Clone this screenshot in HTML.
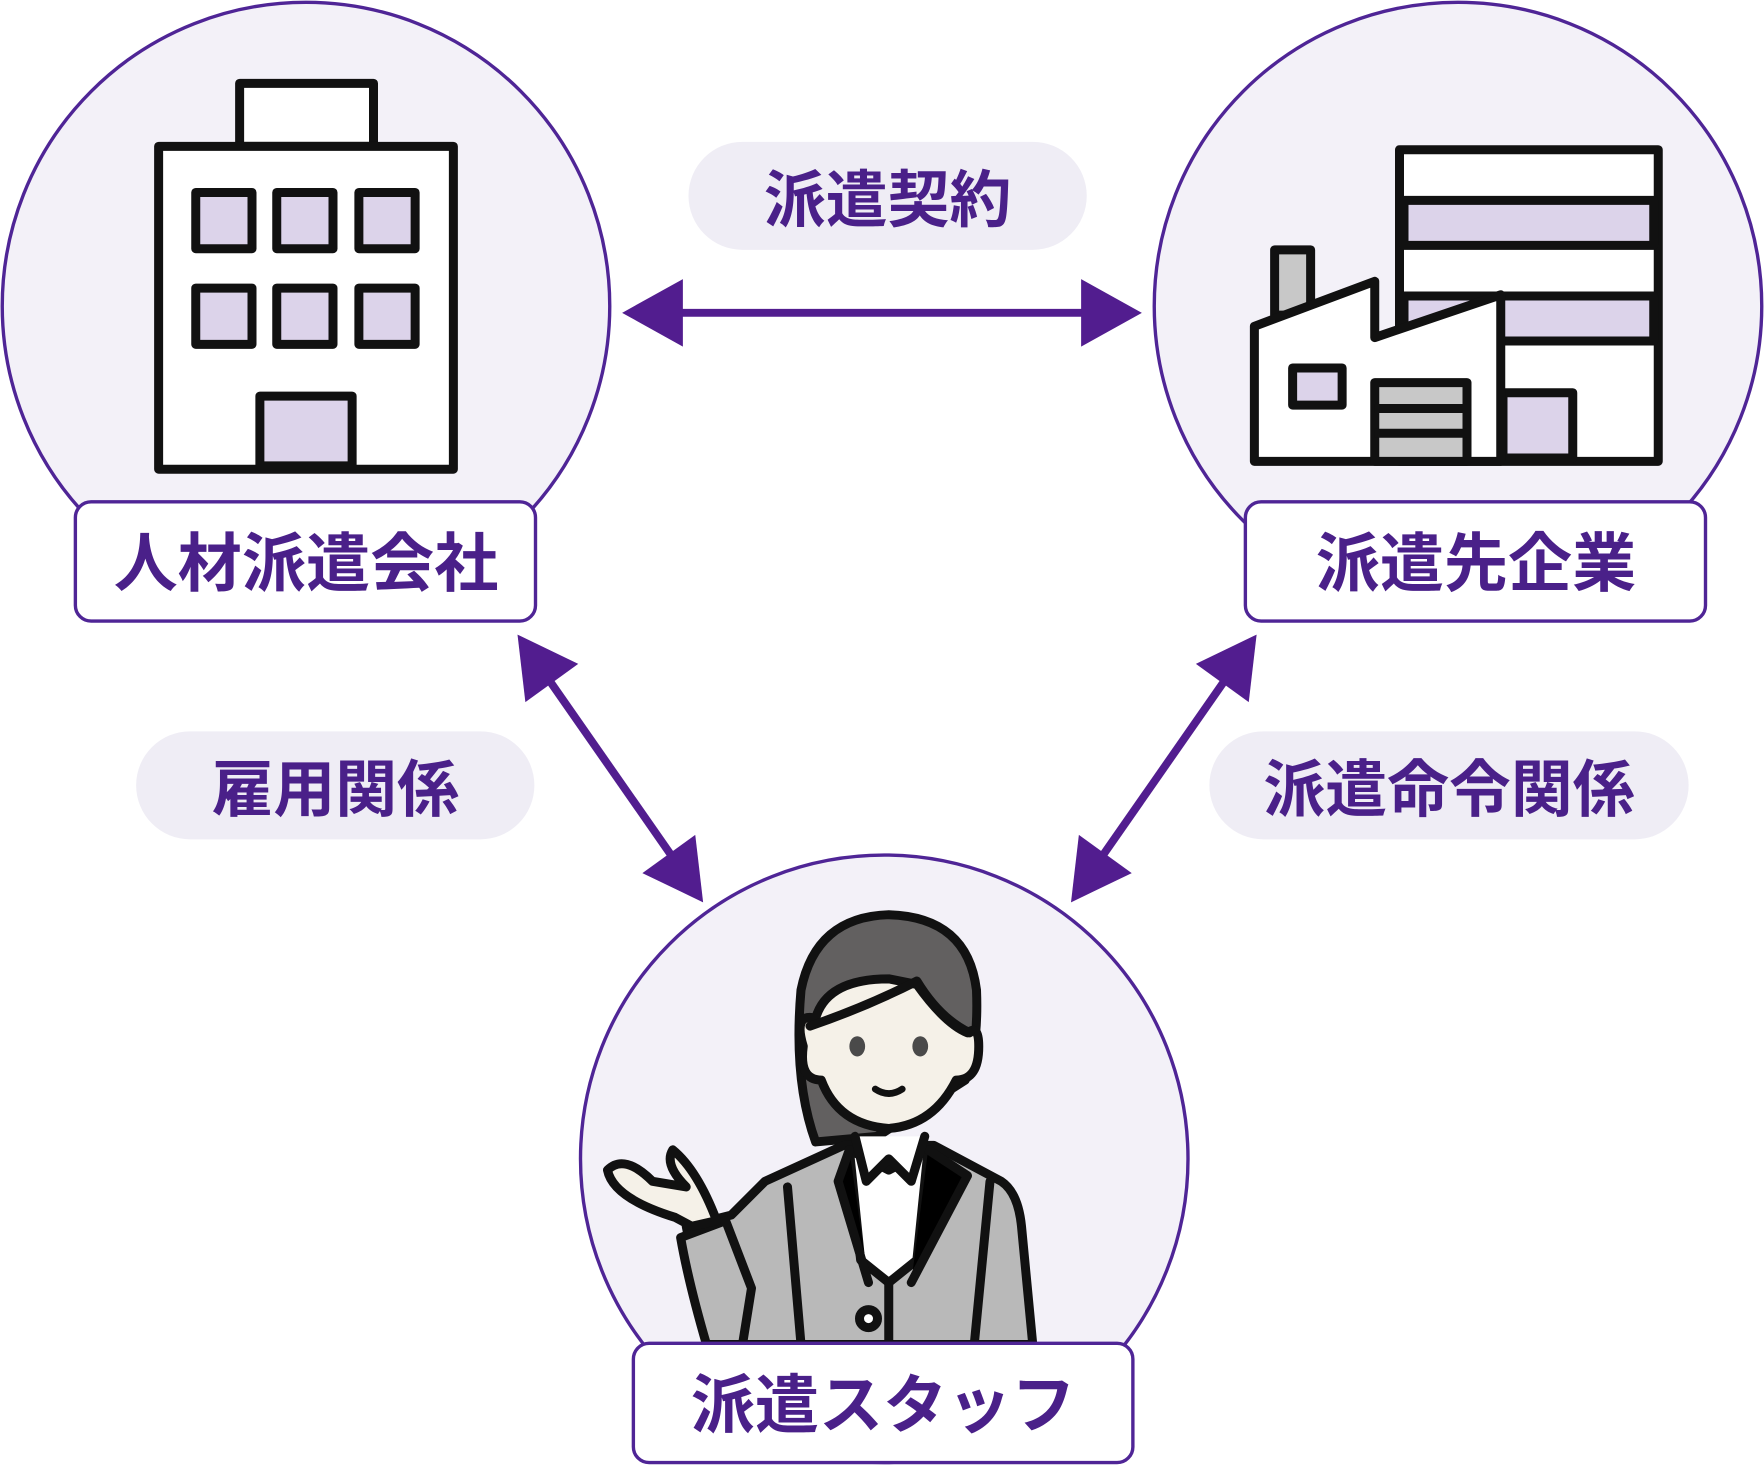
<!DOCTYPE html>
<html><head><meta charset="utf-8"><style>
html,body{margin:0;padding:0;background:#fff}
svg{display:block}
text{font-family:"Liberation Sans","Noto Sans CJK JP",sans-serif;font-weight:700;fill:#4a2089}
</style></head><body>
<svg width="1764" height="1466" viewBox="0 0 1568 1303" xmlns="http://www.w3.org/2000/svg">
<g fill="#f3f1f8" stroke="#4f2596" stroke-width="3">
<circle cx="272" cy="272" r="270"/>
<circle cx="1296" cy="272" r="270"/>
<circle cx="786" cy="1030" r="270"/>
</g>
<g stroke="#111" stroke-width="8" stroke-linejoin="round">
<rect x="213" y="74" width="119" height="56" fill="#fff"/>
<rect x="141" y="130" width="262" height="287" fill="#fff"/>
<g fill="#dcd3ea">
<rect x="174" y="171" width="50" height="50"/><rect x="246" y="171" width="50" height="50"/><rect x="319" y="171" width="50" height="50"/>
<rect x="174" y="256" width="50" height="50"/><rect x="246" y="256" width="50" height="50"/><rect x="319" y="256" width="50" height="50"/>
<rect x="231" y="352" width="82" height="62"/>
</g>
</g>
<g stroke="#111" stroke-width="8" stroke-linejoin="round">
<rect x="1244" y="133" width="230" height="277" fill="#fff"/>
<g fill="#dcd3ea">
<rect x="1248" y="178" width="222" height="40"/>
<rect x="1248" y="263" width="222" height="40"/>
<rect x="1336" y="349" width="62" height="58"/>
</g>
<rect x="1133" y="222" width="32" height="58" fill="#c8c8c8"/>
<polygon points="1115,290 1222,250 1222,300 1334,262 1334,410 1115,410" fill="#fff"/>
<rect x="1149" y="327" width="44" height="33" fill="#dcd3ea"/>
<rect x="1222" y="340" width="82" height="70" fill="#c8c8c8"/>
<line x1="1222" y1="363" x2="1304" y2="363"/><line x1="1222" y1="385" x2="1304" y2="385"/>
</g>
<g stroke="#111" stroke-width="8" stroke-linejoin="round" stroke-linecap="round">
<path d="M725 1015 Q705 960 712 880 Q725 815 790 813 Q860 815 868 880 Q870 930 858 960 L780 1010 Z" fill="#626060"/>
<path d="M610 1090 L650 1080 L680 1050 L750 1018 L830 1018 L890 1050 Q905 1060 908 1090 L918 1195 L630 1195 Z" fill="#b9b9b9"/>
<path d="M755 1022 L790 1040 L825 1022 L815 1120 L790 1140 L765 1120 Z" fill="#fff"/>
<path d="M755 1022 L745 1050 L772 1140 M825 1022 L860 1045 L810 1140 M790 1140 L790 1195 M700 1055 L712 1195 M880 1050 L866 1195"/>
<path d="M760 1010 L770 1050 L790 1030 L810 1050 L822 1010" fill="#fff"/>
<path d="M714 930 Q705 900 725 905 Q735 870 790 870 L815 875 Q840 910 860 918 Q870 910 870 930 Q870 960 850 960 Q830 1000 790 1003 Q745 1000 730 960 Q710 960 714 930 Z" fill="#f5f1e8"/>
<path d="M720 912 Q770 895 815 872 Q835 905 862 918" fill="none"/>
<path d="M605 1100 L645 1085 L668 1145 L660 1195 L628 1195 Q612 1140 605 1100 Z" fill="#b9b9b9"/>
<path d="M637 1085 Q620 1040 598 1022 Q590 1035 610 1055 L580 1050 Q555 1025 540 1040 Q545 1065 600 1082 L615 1090 Z" fill="#f5f1e8"/>
<path d="M778 968 Q790 976 802 968" fill="none" stroke-width="6"/>
<circle cx="772" cy="1172" r="8" fill="#fff"/>
</g>
<ellipse cx="762" cy="930" rx="7" ry="9" fill="#4a4a4a"/>
<ellipse cx="818" cy="930" rx="7" ry="9" fill="#4a4a4a"/>
<g fill="#521d8f" stroke="#521d8f">
<line x1="600" y1="278" x2="970" y2="278" stroke-width="7"/>
<polygon points="553,278 607,248 607,308" stroke="none"/>
<polygon points="1015,278 961,248 961,308" stroke="none"/>
<line x1="485" y1="600" x2="600" y2="765" stroke-width="7"/>
<polygon points="460,564 514,590 467,624" stroke="none"/>
<polygon points="625,802 571,776 618,742" stroke="none"/>
<line x1="1092" y1="600" x2="977" y2="765" stroke-width="7"/>
<polygon points="1117,564 1063,590 1110,624" stroke="none"/>
<polygon points="952,802 1006,776 959,742" stroke="none"/>
</g>
<g fill="#efedf5">
<rect x="612" y="126" width="354" height="96" rx="48"/>
<rect x="121" y="650" width="354" height="96" rx="48"/>
<rect x="1075" y="650" width="426" height="96" rx="48"/>
</g>
<text x="789" y="197" font-size="55" text-anchor="middle">派遣契約</text>
<text x="298" y="721" font-size="55" text-anchor="middle">雇用関係</text>
<text x="1288" y="721" font-size="55" text-anchor="middle">派遣命令関係</text>
<g fill="#fff" stroke="#4f2596" stroke-width="3">
<rect x="67" y="446" width="409" height="106" rx="14"/>
<rect x="1107" y="446" width="409" height="106" rx="14"/>
<rect x="563" y="1194" width="444" height="106" rx="14"/>
</g>
<text x="272" y="521" font-size="57" text-anchor="middle">人材派遣会社</text>
<text x="1312" y="521" font-size="57" text-anchor="middle">派遣先企業</text>
<text x="785" y="1269" font-size="57" text-anchor="middle">派遣スタッフ</text>
</svg>
</body></html>
